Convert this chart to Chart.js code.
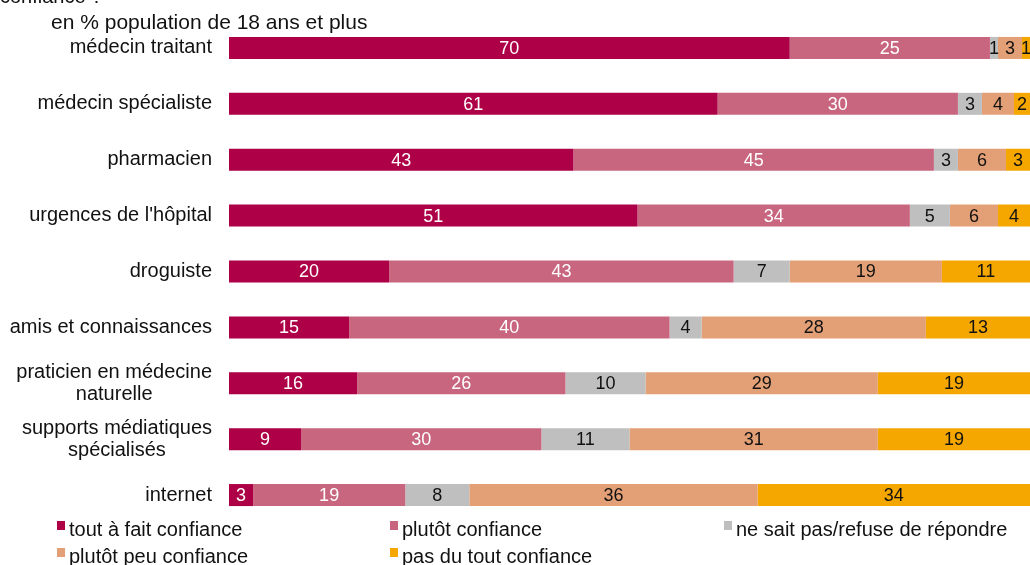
<!DOCTYPE html>
<html>
<head>
<meta charset="utf-8">
<script src="https://cdn.jsdelivr.net/npm/chart.js@4.4.1/dist/chart.umd.min.js"></script>
<style>
  body { margin: 0; background: #fff; font-family: "Liberation Sans", Arial, sans-serif; color: #111; }
  #wrap { position: relative; width: 1030px; height: 565px; overflow: hidden; }
  #chart { position: absolute; left: 0; top: 0; }
  .txt { position: absolute; font-size: 20px; line-height: 20px; white-space: nowrap; }
  .mark { position: absolute; width: 8px; height: 9px; }
</style>
</head>
<body>
<div id="wrap">
  <canvas id="chart" width="1030" height="565"></canvas>
  <div class="txt" style="left:0; top:-14px;">confiance ?</div>
  <div class="txt" style="left:51px; top:11px; font-size:21px; line-height:21px;">en % population de 18 ans et plus</div>
  <div id="legend"></div>
</div>
<script>
// Data
const categories = [
  ["médecin traitant"],
  ["médecin spécialiste"],
  ["pharmacien"],
  ["urgences de l'hôpital"],
  ["droguiste"],
  ["amis et connaissances"],
  ["praticien en médecine", "naturelle"],
  ["supports médiatiques", "spécialisés"],
  ["internet"],
];
const seriesNames = [
  "tout à fait confiance",
  "plutôt confiance",
  "ne sait pas/refuse de répondre",
  "plutôt peu confiance",
  "pas du tout confiance",
];
const toutAFait = [70, 61, 43, 51, 20, 15, 16, 9, 3];
const plutot = [25, 30, 45, 34, 43, 40, 26, 30, 19];
const neSaitPas = [1, 3, 3, 5, 7, 4, 10, 11, 8];
const plutotPeu = [3, 4, 6, 6, 19, 28, 29, 31, 36];
const pasDuTout = [1, 2, 3, 4, 11, 13, 19, 19, 34];

const colors = ["#AD0046", "#C8667F", "#BFBFBF", "#E3A076", "#F5A700"];
const labelColors = ["#fff", "#fff", "#111", "#111", "#111"];
const allSeries = [toutAFait, plutot, neSaitPas, plutotPeu, pasDuTout];

// Legend (3 columns)
const legendPos = [[57, 519], [390, 519], [724, 519], [57, 546], [390, 546]];
const legend = document.getElementById("legend");
seriesNames.forEach((name, i) => {
  const [x, y] = legendPos[i];
  const m = document.createElement("div");
  m.className = "mark";
  m.style.left = x + "px";
  m.style.top = (y + 2) + "px";
  m.style.background = colors[i];
  legend.appendChild(m);
  const t = document.createElement("div");
  t.className = "txt";
  t.style.left = (x + 12) + "px";
  t.style.top = y + "px";
  t.textContent = name;
  legend.appendChild(t);
});

// Draws category labels and value labels
const labelPlugin = {
  id: "labelPlugin",
  afterDatasetsDraw(chart) {
    const ctx = chart.ctx;
    const yScale = chart.scales.y;
    ctx.save();
    ctx.font = '20px "Liberation Sans", Arial, sans-serif';
    ctx.fillStyle = "#111";
    ctx.textBaseline = "middle";
    ctx.textAlign = "center";
    categories.forEach((lines, i) => {
      const yc = yScale.getPixelForValue(i);
      const w = Math.max(...lines.map(l => ctx.measureText(l).width));
      const cx = 212 - w / 2;
      const lh = 22;
      lines.forEach((l, k) => {
        ctx.fillText(l, cx, yc + (k - (lines.length - 1) / 2) * lh);
      });
    });

    ctx.font = '18px "Liberation Sans", Arial, sans-serif';
    chart.data.datasets.forEach((ds, di) => {
      const meta = chart.getDatasetMeta(di);
      ctx.fillStyle = labelColors[di];
      meta.data.forEach((bar, j) => {
        const cx = (bar.x + bar.base) / 2;
        ctx.fillText(String(ds.data[j]), cx, bar.y + 1);
      });
    });
    ctx.restore();
  },
};

new Chart(document.getElementById("chart").getContext("2d"), {
  type: "bar",
  data: {
    labels: categories.map(c => c.join(" ")),
    datasets: allSeries.map((d, i) => ({
      label: seriesNames[i],
      data: d,
      backgroundColor: colors[i],
      borderWidth: 0,
      barPercentage: 0.394,
      categoryPercentage: 1,
    })),
  },
  options: {
    indexAxis: "y",
    responsive: false,
    animation: false,
    devicePixelRatio: 1,
    layout: { padding: { left: 229, right: 0, top: 20, bottom: 42 } },
    scales: {
      x: { stacked: true, min: 0, max: 100, display: false },
      y: { stacked: true, display: false },
    },
    plugins: {
      legend: { display: false },
      tooltip: { enabled: false },
    },
  },
  plugins: [labelPlugin],
});
</script>
</body>
</html>
